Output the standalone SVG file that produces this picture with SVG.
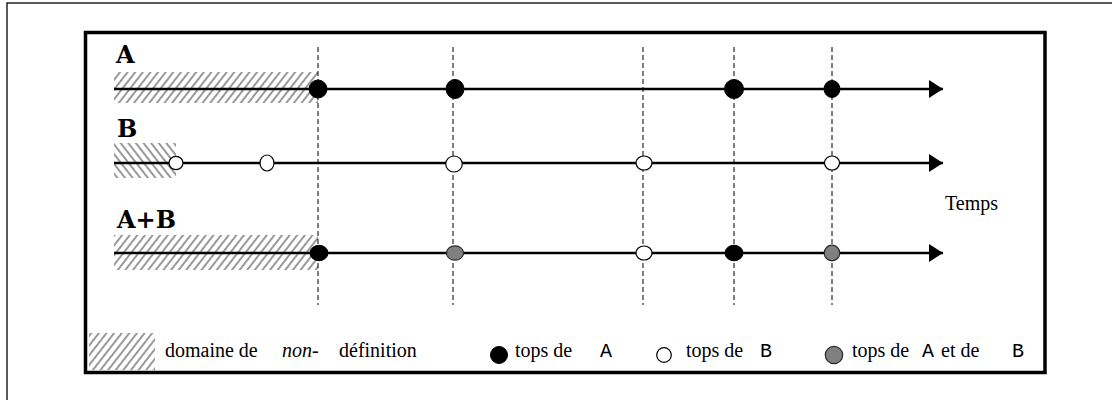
<svg xmlns="http://www.w3.org/2000/svg" width="1112" height="400" viewBox="0 0 1112 400">
<style>
.frame{fill:none;stroke:#000}
.tl{stroke:#000;stroke-width:2.4;fill:none}
.dash{stroke:#000;stroke-width:1;stroke-dasharray:5 3;fill:none}
.blk{fill:#000;stroke:#000;stroke-width:1}
.wht{fill:#fff;stroke:#000;stroke-width:1.2}
.gry{fill:#808080;stroke:#2a2a2a;stroke-width:1.2}
.lbl{font-family:"DejaVu Serif","Liberation Mono",serif;font-weight:bold;font-size:24px;fill:#000}
.txt{font-family:"Liberation Serif","DejaVu Serif",serif;font-size:20px;fill:#000}
.mono{font-family:"Liberation Mono","DejaVu Sans Mono",monospace;font-size:20px;fill:#000}
</style>
<defs>
<pattern id="hatchF" patternUnits="userSpaceOnUse" width="6" height="10" patternTransform="rotate(38)">
<line x1="1" y1="0" x2="1" y2="10" stroke="#333" stroke-width="1"/>
</pattern>
<pattern id="hatchB" patternUnits="userSpaceOnUse" width="6" height="10" patternTransform="rotate(-38)">
<line x1="1" y1="0" x2="1" y2="10" stroke="#333" stroke-width="1"/>
</pattern>
<marker id="arr" markerUnits="userSpaceOnUse" markerWidth="16" markerHeight="20" refX="14" refY="9" orient="auto">
<path d="M0,0 L14,9 L0,18 Z" fill="#000"/>
</marker>
</defs>
<rect x="0" y="0" width="1112" height="400" fill="#fff"/>
<rect class="frame" x="7" y="3" width="1200" height="500" stroke-width="1.3"/>
<rect class="frame" x="85.5" y="32.5" width="959.5" height="340" stroke-width="3.5"/>

<g id="hatching">
<rect x="114" y="72" width="204" height="31" fill="url(#hatchF)"/>
<rect x="114" y="143" width="62" height="35" fill="url(#hatchB)"/>
<rect x="114" y="235" width="204" height="35" fill="url(#hatchF)"/>
</g>

<g id="connectors">
<line class="dash" x1="318" y1="47" x2="318" y2="305"/>
<line class="dash" x1="453" y1="47" x2="453" y2="305"/>
<line class="dash" x1="643" y1="47" x2="643" y2="305"/>
<line class="dash" x1="734" y1="47" x2="734" y2="305"/>
<line class="dash" x1="832" y1="47" x2="832" y2="305"/>
<line class="tl" x1="114" y1="89" x2="943" y2="89" marker-end="url(#arr)"/>
<line class="tl" x1="114" y1="163" x2="943" y2="163" marker-end="url(#arr)"/>
<line class="tl" x1="114" y1="253" x2="943" y2="253" marker-end="url(#arr)"/>
</g>

<g id="labels">
<text class="lbl" x="116" y="63">A</text>
<text class="lbl" x="117" y="137">B</text>
<text class="lbl" x="117" y="228">A+B</text>
<text class="txt" x="945" y="210" font-size="21">Temps</text>
</g>

<g id="node-A-1"><ellipse class="blk" cx="318" cy="89" rx="9" ry="9"/></g>
<g id="node-A-2"><ellipse class="blk" cx="455" cy="89" rx="9" ry="9.5"/></g>
<g id="node-A-3"><ellipse class="blk" cx="734" cy="89" rx="9.5" ry="9.5"/></g>
<g id="node-A-4"><ellipse class="blk" cx="832" cy="89" rx="8" ry="8.5"/></g>

<g id="node-B-1"><ellipse class="wht" cx="176" cy="163" rx="7" ry="6.7"/></g>
<g id="node-B-2"><ellipse class="wht" cx="267" cy="163" rx="7" ry="8"/></g>
<g id="node-B-3"><ellipse class="wht" cx="454" cy="164" rx="8.3" ry="8"/></g>
<g id="node-B-4"><ellipse class="wht" cx="644" cy="163" rx="8" ry="7"/></g>
<g id="node-B-5"><ellipse class="wht" cx="832" cy="163" rx="7.5" ry="7"/></g>

<g id="node-AB-1"><ellipse class="blk" cx="319" cy="253" rx="9" ry="7.7"/></g>
<g id="node-AB-2"><ellipse class="gry" cx="455" cy="253" rx="8.5" ry="7.2"/></g>
<g id="node-AB-3"><ellipse class="wht" cx="644" cy="253" rx="8" ry="7"/></g>
<g id="node-AB-4"><ellipse class="blk" cx="734" cy="253" rx="9" ry="7.8"/></g>
<g id="node-AB-5"><ellipse class="gry" cx="832" cy="253" rx="7.7" ry="7.8"/></g>

<g id="legend">
<rect x="89" y="333" width="66" height="37" fill="url(#hatchF)"/>
<text class="txt" x="165" y="357">domaine de</text>
<text class="txt" x="282" y="357" font-style="italic">non-</text>
<text class="txt" x="339" y="357">définition</text>
<circle class="blk" cx="499" cy="355" r="8.5"/>
<text class="txt" x="515" y="357">tops de</text>
<text class="mono" x="600" y="357">A</text>
<circle class="wht" cx="664" cy="355" r="7.3"/>
<text class="txt" x="686" y="357">tops de</text>
<text class="mono" x="760" y="357">B</text>
<circle class="gry" cx="834" cy="355" r="8.7"/>
<text class="txt" x="852" y="357">tops de</text>
<text class="mono" x="922" y="357">A</text>
<text class="txt" x="941" y="357">et de</text>
<text class="mono" x="1012" y="357">B</text>
</g>
</svg>
